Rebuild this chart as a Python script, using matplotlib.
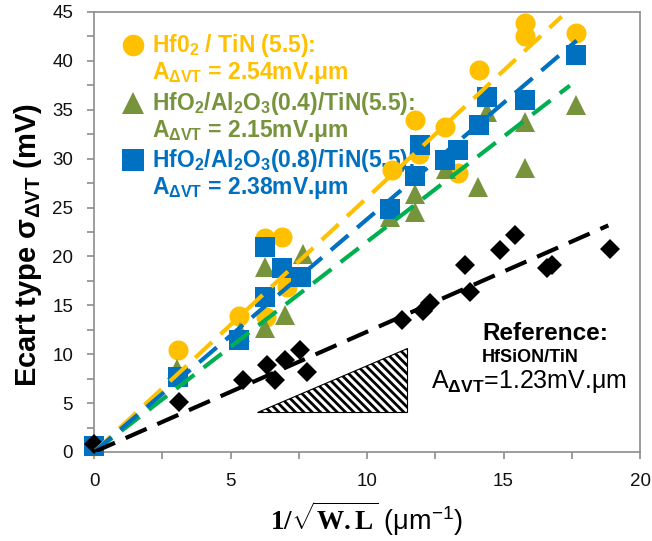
import matplotlib
matplotlib.use("Agg")
import matplotlib.pyplot as plt
from matplotlib.patches import Polygon
from matplotlib.ticker import MultipleLocator
import numpy as np

plt.rcParams["font.family"] = ["Liberation Sans", "DejaVu Sans"]
plt.rcParams["mathtext.fontset"] = "custom"
plt.rcParams["mathtext.rm"] = "Liberation Sans:bold"
plt.rcParams["mathtext.bf"] = "Liberation Serif:bold"
plt.rcParams["mathtext.sf"] = "Liberation Sans"
plt.rcParams["mathtext.it"] = "Liberation Sans:italic"
plt.rcParams["hatch.linewidth"] = 2.0

# HfO2 / TiN (5.5)
hfo2_x = [0, 3.06, 5.3, 6.3, 6.26, 6.87, 7.06, 10.9, 11.76, 11.9, 12.86, 13.35, 14.1, 15.8, 15.8, 17.65]
hfo2_y = [0.6, 10.4, 13.9, 13.8, 21.9, 22.0, 16.9, 28.8, 34.0, 30.5, 33.2, 28.5, 39.1, 43.9, 42.5, 42.9]

# HfO2/Al2O3(0.4)/TiN(5.5)
al04_x = [0, 3.05, 5.35, 6.26, 7.0, 6.26, 7.67, 10.84, 11.76, 11.76, 12.9, 14.08, 14.4, 15.79, 15.79, 17.65]
al04_y = [0.6, 8.5, 12.3, 12.7, 14.0, 18.9, 20.3, 24.0, 24.5, 26.4, 28.9, 27.1, 34.8, 29.0, 33.8, 35.5]

# HfO2/Al2O3(0.8)/TiN(5.5)
al08_x = [0, 3.06, 5.32, 6.26, 6.26, 6.87, 7.6, 10.84, 11.76, 11.94, 12.86, 13.35, 14.1, 14.41, 15.79, 17.65]
al08_y = [0.6, 7.7, 11.45, 21.0, 15.9, 18.8, 17.9, 24.9, 28.2, 31.4, 29.9, 30.9, 33.4, 36.3, 36.0, 40.6]

# Reference HfSiON/TiN
ref_x = [0, 3.11, 5.47, 6.33, 6.63, 7.0, 7.55, 7.79, 11.27, 12.06, 12.3, 13.59, 13.77, 14.87, 15.42, 16.6, 16.77, 18.9]
ref_y = [0.8, 5.1, 7.4, 8.9, 7.4, 9.4, 10.4, 8.2, 13.5, 14.4, 15.2, 19.1, 16.4, 20.7, 22.2, 18.8, 19.1, 20.8]

# Linear fits through the origin: slope and x extent
fit_slopes = [2.6, 2.15, 2.38, 1.23]
fit_xmax = [17.13, 17.43, 17.68, 18.84]
fit_colors = ["#FFC000", "#00B050", "#0070C0", "#000000"]

# Pelgrom coefficients A_dVT (mV.um)
a_values = ["2.54", "2.15", "2.38", "1.23"]

# Slope triangle (x0, x1, y0, y1)
tri_x = [5.96, 11.45]
tri_y = [4.1, 10.6]

YELLOW = "#FFC000"
OLIVE = "#77933C"
BLUE = "#0070C0"
GRAY = "#8C8C8C"

W, H = 652, 541
fig = plt.figure(figsize=(W / 100, H / 100), dpi=100)
ax = fig.add_axes([94 / W, 1 - 452 / H, (640 - 94) / W, (452 - 12) / H])


def fxy(px, py):
    return px / W, 1 - py / H


ms = 14.4
mk = dict(linestyle="none", markeredgewidth=0, clip_on=False)
ax.plot(hfo2_x, hfo2_y, marker="o", markersize=ms, color=YELLOW, zorder=3, **mk)
ax.plot(al04_x, al04_y, marker="^", markersize=ms, color=OLIVE, zorder=3.1, **mk)
ax.plot(al08_x, al08_y, marker="s", markersize=15, color=BLUE, zorder=3.2, **mk)
ax.plot(ref_x, ref_y, marker="D", markersize=10.2, color="black", zorder=3.3, **mk)

for slope, xm, col in zip(fit_slopes, fit_xmax, fit_colors):
    xs = np.array([0.0, xm])
    ax.plot(xs, slope * xs, color=col, linewidth=3, dashes=(5.5, 2.8),
            dash_capstyle="butt", zorder=4)

tri = Polygon([[tri_x[0], tri_y[0]], [tri_x[1], tri_y[0]], [tri_x[1], tri_y[1]]],
              closed=True, facecolor="white", edgecolor="black", linewidth=0.8,
              hatch="\\" * 4, zorder=2)
ax.add_patch(tri)

ax.set_xlim(0, 20)
ax.set_ylim(0, 45)
ax.xaxis.set_major_locator(MultipleLocator(5))
ax.xaxis.set_minor_locator(MultipleLocator(2.5))
ax.yaxis.set_major_locator(MultipleLocator(5))
ax.yaxis.set_minor_locator(MultipleLocator(2.5))
for s in ax.spines.values():
    s.set_color(GRAY)
    s.set_linewidth(1.2)
ax.tick_params(which="both", direction="out", length=5, width=1.2, color=GRAY)
ax.tick_params(which="major", labelsize=13.5, pad=10, labelcolor="#111111")

# Legend block
legend_rows = [
    ("o", YELLOW, 45, ["Hf0$_\\mathrm{2}$ / TiN (5.5):", "A$_\\mathrm{ΔVT}$ = %smV.μm" % a_values[0]], 52),
    ("^", OLIVE, 103, ["HfO$_\\mathrm{2}$/Al$_\\mathrm{2}$O$_\\mathrm{3}$(0.4)/TiN(5.5):",
                       "A$_\\mathrm{ΔVT}$ = %smV.μm" % a_values[1]], 110),
    ("s", BLUE, 160, ["HfO$_\\mathrm{2}$/Al$_\\mathrm{2}$O$_\\mathrm{3}$(0.8)/TiN(5.5):",
                      "A$_\\mathrm{ΔVT}$ = %smV.μm" % a_values[2]], 167),
]
for marker, col, my, lines, base in legend_rows:
    mx, myf = fxy(133, my)
    ax.plot([mx], [myf], marker=marker, markersize=15.5, color=col, markeredgewidth=0,
            transform=fig.transFigure, clip_on=False, zorder=1)
    for i, txt in enumerate(lines):
        tx, ty = fxy(152, base + 27 * i)
        ax.text(tx, ty, txt, transform=fig.transFigure, color=col, fontsize=16.5,
                fontweight="bold", ha="left", va="baseline", zorder=1)

# Reference annotation
tx, ty = fxy(482, 340)
ax.text(tx, ty, "Reference:", transform=fig.transFigure, fontsize=17.5,
        fontweight="bold", ha="left", va="baseline", zorder=1)
tx, ty = fxy(482, 362)
ax.text(tx, ty, "HfSiON/TiN", transform=fig.transFigure, fontsize=13,
        fontweight="bold", ha="left", va="baseline", zorder=1)
tx, ty = fxy(431, 388)
ax.text(tx, ty, "A$_\\mathrm{ΔVT}$=%smV.μm" % a_values[3], transform=fig.transFigure,
        fontsize=18, ha="left", va="baseline", zorder=1)

# Axis titles
tx, ty = fxy(28, 245)
fig.text(tx, ty, "Ecart type σ$_\\mathrm{ΔVT}$ (mV)", rotation=90, fontsize=21,
         fontweight="bold", ha="center", va="center")
tx, ty = fxy(366, 519)
fig.text(tx, ty, "$\\mathbf{1/\\sqrt{W.L}}$ (μm$^\\mathsf{-1}$)", fontsize=19.5,
         ha="center", va="center")

fig.savefig("out.png", dpi=100)
